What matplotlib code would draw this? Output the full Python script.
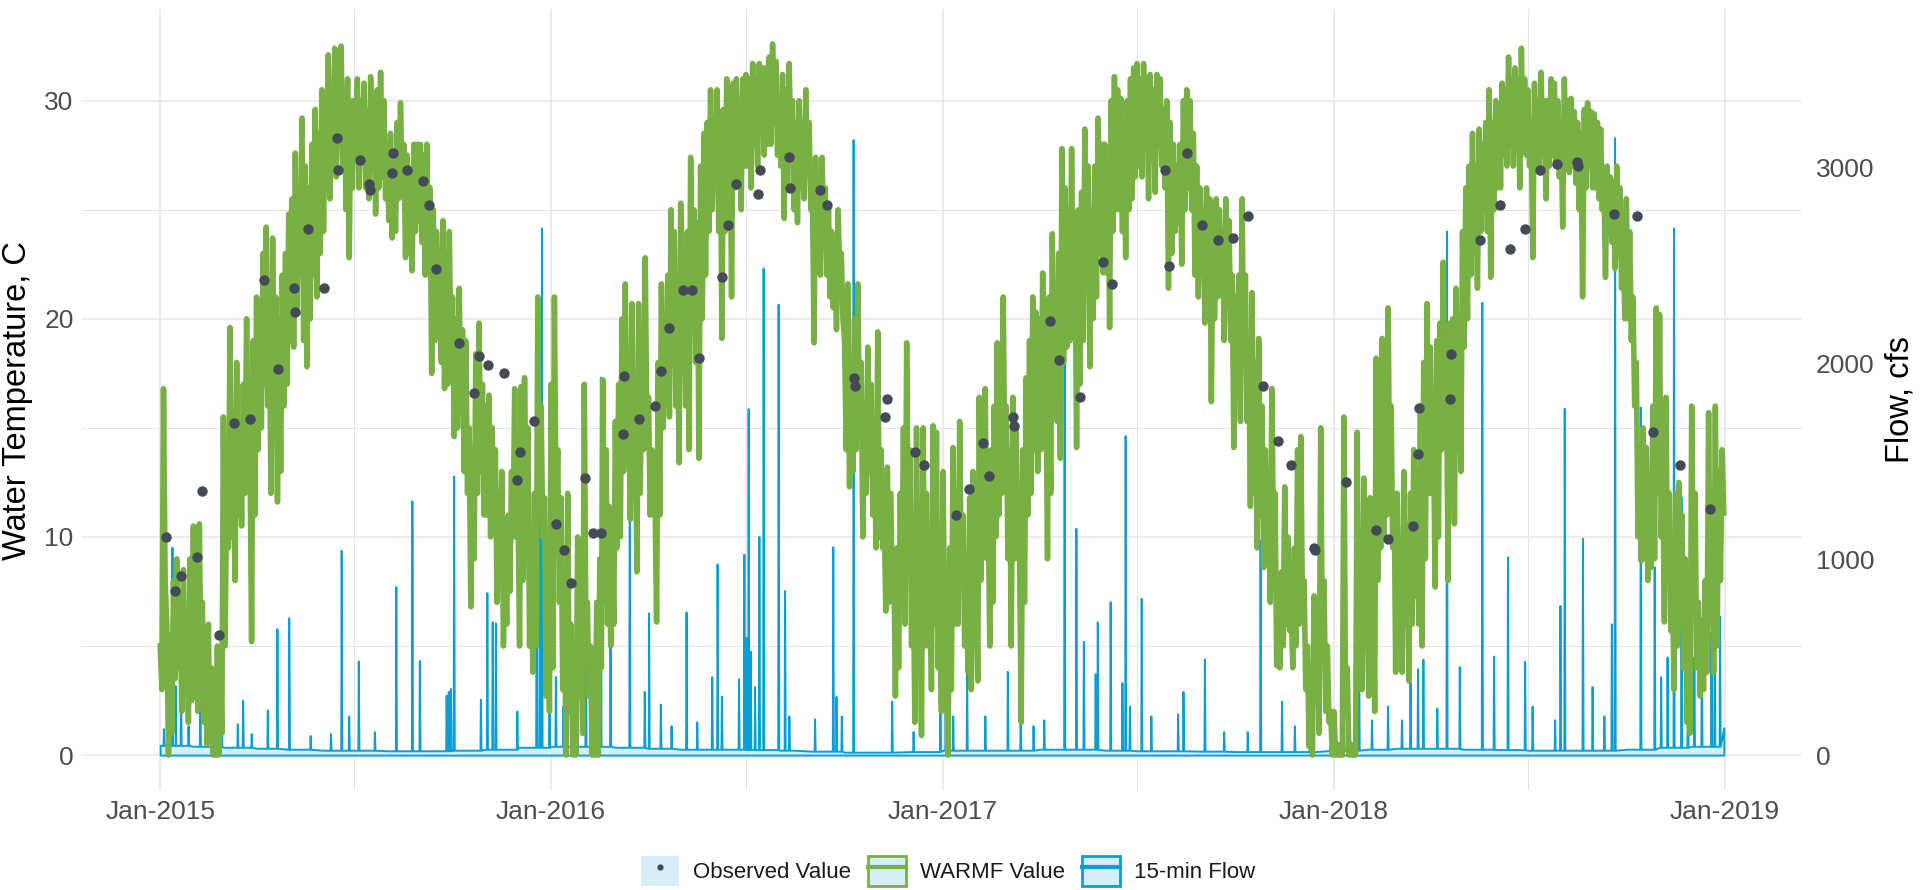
import numpy as np
import pandas as pd
import matplotlib
matplotlib.use("Agg")
import matplotlib.pyplot as plt
import matplotlib.dates as mdates
from matplotlib.patches import Patch
from matplotlib.lines import Line2D
from matplotlib.legend_handler import HandlerTuple

plt.rcParams['font.family'] = ['Liberation Sans', 'DejaVu Sans']

# ---------------- data ----------------
# WARMF simulated water temperature (C): per month, the daily highs and lows
warmf_hi_2015 = [
    [5.0, 16.8, 6.0, 5.5, 8.0, 9.0, 7.5, 8.5, 6.5, 9.0],
    [10.5, 8.0, 10.6, 7.0, 5.5, 6.0, 4.0, 3.5, 5.0, 4.0],
    [15.5, 12.0, 19.6, 14.0, 18.0, 15.0, 17.0, 20.0, 14.0, 19.0],
    [21.0, 19.0, 23.0, 24.2, 19.0, 23.7, 21.0, 20.0, 22.0, 23.0],
    [24.8, 25.5, 27.6, 26.0, 29.2, 27.0, 26.0, 28.0, 29.6, 28.5],
    [30.5, 29.0, 32.1, 30.0, 32.4, 31.0, 32.5, 30.5, 31.0, 30.0],
    [30.0, 31.0, 30.0, 30.8, 29.5, 31.1, 30.0, 30.5, 31.3, 30.0],
    [28.0, 28.5, 27.0, 29.0, 29.9, 28.0, 27.5, 26.5, 28.0, 28.0],
    [28.0, 27.5, 28.0, 26.0, 25.0, 24.0, 23.0, 24.5, 23.0, 24.0],
    [21.0, 20.0, 21.4, 19.5, 19.0, 15.0, 14.0, 18.4, 19.8, 17.0],
    [16.0, 16.5, 15.0, 14.0, 12.0, 13.0, 10.0, 11.0, 13.0, 16.8],
    [12.0, 16.9, 17.3, 15.0, 9.0, 12.0, 21.0, 16.0, 11.8, 8.0],
]
warmf_lo_2015 = [
    [3.0, 8.0, 0.0, 1.0, 3.5, 4.0, 2.0, 3.0, 1.5, 2.5],
    [3.0, 2.0, 4.0, 1.5, 0.5, 1.0, 0.0, 0.0, 0.0, 1.0],
    [5.0, 9.5, 10.0, 8.0, 11.0, 10.5, 12.0, 13.0, 5.2, 11.0],
    [14.0, 15.0, 17.0, 16.0, 12.0, 15.5, 11.6, 13.0, 16.0, 17.0],
    [19.0, 18.7, 20.5, 22.0, 19.0, 17.8, 20.0, 22.0, 21.0, 23.0],
    [24.0, 26.0, 25.5, 27.0, 26.5, 28.0, 27.0, 25.0, 22.8, 26.0],
    [27.8, 26.0, 27.5, 26.0, 25.5, 27.0, 24.8, 26.0, 26.5, 25.5],
    [24.5, 23.7, 24.0, 25.5, 26.0, 22.8, 23.0, 22.2, 24.0, 24.5],
    [23.5, 22.0, 23.0, 17.5, 19.0, 21.0, 18.0, 16.8, 17.0, 18.0],
    [14.6, 15.0, 15.7, 13.0, 12.0, 6.8, 9.0, 12.0, 13.0, 11.0],
    [11.0, 10.0, 11.0, 7.0, 8.0, 5.0, 6.0, 7.5, 10.0, 10.0],
    [5.0, 8.0, 11.0, 5.0, 3.8, 5.0, 11.0, 10.0, 2.7, 2.0],
]
warmf_hi_2016 = [
    [17.0, 21.0, 14.0, 11.8, 7.0, 12.0, 6.0, 4.0, 10.0, 7.0],
    [17.0, 7.0, 5.0, 3.0, 7.0, 9.0, 17.2, 14.0, 11.4, 10.0],
    [15.3, 17.0, 20.0, 21.6, 18.0, 20.7, 15.0, 20.7, 19.0, 22.8],
    [16.4, 14.0, 12.0, 18.0, 21.6, 19.0, 22.0, 25.0, 24.0, 20.0],
    [25.3, 22.0, 24.0, 27.4, 25.0, 24.4, 27.0, 28.5, 29.0, 30.5],
    [29.0, 30.5, 29.5, 29.6, 31.0, 30.0, 30.8, 31.0, 30.0, 31.0],
    [31.2, 31.0, 31.7, 31.0, 31.7, 31.5, 31.5, 32.0, 32.6, 31.8],
    [30.0, 31.2, 30.5, 31.7, 30.0, 29.0, 30.0, 29.0, 30.5, 29.0],
    [26.0, 27.4, 26.0, 27.4, 26.0, 25.0, 24.0, 23.0, 25.0, 23.0],
    [19.0, 21.6, 17.0, 20.0, 21.6, 18.0, 16.0, 18.7, 17.0, 14.0],
    [19.4, 14.0, 11.0, 13.2, 12.0, 9.0, 9.5, 12.0, 15.0, 18.9],
    [14.0, 9.0, 15.0, 8.0, 15.0, 12.0, 8.4, 15.1, 14.8, 7.0],
]
warmf_lo_2016 = [
    [4.0, 11.0, 7.0, 3.0, 0.0, 2.0, 0.0, 0.0, 2.7, 1.0],
    [6.0, 2.7, 0.0, 0.0, 0.0, 4.0, 7.0, 6.0, 5.0, 6.0],
    [9.5, 10.0, 13.0, 14.0, 10.8, 12.0, 8.4, 12.0, 14.0, 15.0],
    [11.0, 11.8, 6.1, 11.0, 15.0, 16.4, 15.5, 18.0, 16.0, 13.4],
    [18.7, 16.0, 14.0, 21.0, 18.0, 13.6, 20.0, 22.0, 24.0, 25.0],
    [26.7, 24.0, 19.1, 24.0, 26.0, 21.0, 26.0, 28.0, 25.0, 27.0],
    [27.0, 26.0, 28.0, 27.0, 28.5, 27.5, 28.0, 28.0, 29.0, 27.5],
    [27.0, 24.6, 26.0, 28.0, 25.0, 24.4, 26.0, 25.5, 27.0, 25.0],
    [18.9, 23.0, 22.0, 24.0, 22.0, 21.0, 20.5, 19.5, 22.1, 20.0],
    [14.0, 12.3, 13.0, 14.0, 15.0, 10.0, 12.0, 13.0, 11.0, 9.5],
    [10.0, 9.5, 6.6, 7.0, 8.0, 2.7, 4.0, 7.0, 6.0, 10.0],
    [5.0, 1.5, 6.0, 0.9, 5.0, 5.0, 3.0, 6.0, 4.0, 2.0],
]
warmf_hi_2017 = [
    [13.0, 4.0, 9.5, 14.1, 12.0, 15.3, 11.0, 9.0, 11.8, 13.0],
    [8.0, 16.4, 14.0, 16.8, 11.0, 14.0, 16.0, 18.9, 17.0, 21.0],
    [16.0, 14.0, 16.4, 15.0, 9.0, 14.0, 17.3, 19.0, 21.0, 20.3],
    [20.0, 22.1, 18.0, 21.0, 23.9, 21.0, 23.0, 27.8, 26.0, 25.0],
    [27.8, 24.0, 25.0, 25.8, 28.7, 27.0, 25.0, 27.0, 29.2, 28.0],
    [28.0, 27.0, 30.0, 31.1, 30.5, 30.1, 29.0, 30.0, 31.0, 31.5],
    [31.7, 31.0, 31.7, 31.0, 31.2, 30.5, 31.2, 31.0, 29.6, 30.0],
    [29.0, 28.0, 27.0, 28.0, 30.0, 30.5, 30.0, 28.5, 27.0, 26.0],
    [25.0, 26.0, 25.5, 24.5, 25.5, 25.0, 24.0, 25.5, 24.5, 22.0],
    [21.0, 22.0, 25.5, 22.0, 19.0, 21.2, 18.0, 19.1, 16.0, 14.0],
    [11.8, 16.8, 12.0, 8.0, 8.4, 12.3, 10.0, 7.0, 9.5, 14.0],
    [14.6, 8.0, 5.0, 3.0, 7.3, 6.1, 15.0, 8.0, 5.0, 2.0],
]
warmf_lo_2017 = [
    [5.0, 0.0, 3.0, 6.0, 6.0, 8.0, 5.0, 3.8, 3.0, 6.0],
    [3.4, 8.0, 9.5, 9.0, 5.0, 7.0, 10.0, 11.0, 12.0, 13.0],
    [9.0, 5.0, 9.0, 9.5, 1.5, 7.0, 11.0, 12.0, 14.0, 13.0],
    [14.0, 16.0, 9.0, 12.0, 17.0, 15.3, 13.6, 18.0, 18.7, 19.0],
    [20.0, 14.1, 17.0, 19.0, 22.0, 17.8, 20.0, 21.0, 23.0, 22.1],
    [22.1, 19.6, 24.0, 25.0, 25.0, 24.0, 22.8, 25.0, 25.5, 26.5],
    [27.0, 26.5, 28.0, 25.5, 27.5, 25.8, 28.0, 27.0, 26.0, 21.4],
    [23.0, 24.0, 24.4, 22.5, 25.0, 26.0, 25.0, 22.0, 21.0, 23.0],
    [19.8, 20.0, 16.2, 20.0, 21.0, 21.4, 19.0, 21.0, 19.0, 14.1],
    [17.5, 15.3, 18.0, 15.3, 11.4, 12.0, 9.5, 11.0, 8.6, 9.0],
    [7.0, 10.0, 4.1, 4.0, 5.0, 6.0, 5.7, 4.0, 5.0, 6.0],
    [7.0, 3.0, 0.4, 0.0, 2.7, 1.0, 5.0, 2.0, 1.5, 0.0],
]
warmf_hi_2018 = [
    [2.0, 0.5, 0.0, 15.5, 4.0, 0.5, 0.0, 14.8, 8.0, 12.7],
    [9.0, 11.8, 8.0, 18.2, 15.0, 19.1, 17.0, 20.5, 16.0, 12.0],
    [12.0, 9.5, 13.0, 10.6, 12.0, 14.0, 13.0, 16.0, 18.0, 20.7],
    [18.7, 14.0, 19.0, 19.8, 22.6, 18.0, 19.8, 20.0, 21.4, 18.0],
    [24.0, 26.0, 27.0, 28.5, 27.0, 28.7, 28.0, 29.0, 30.5, 29.0],
    [30.0, 29.0, 30.8, 30.5, 32.0, 31.0, 31.5, 31.0, 32.4, 31.0],
    [30.5, 29.0, 30.8, 30.0, 31.3, 30.0, 30.0, 31.0, 30.8, 30.0],
    [29.0, 31.0, 30.0, 30.1, 29.5, 29.0, 28.5, 29.6, 29.9, 29.5],
    [29.4, 29.0, 28.7, 26.5, 27.0, 26.5, 26.3, 27.0, 26.0, 24.0],
    [25.5, 24.0, 21.0, 18.0, 14.1, 15.0, 14.1, 12.0, 16.0, 20.5],
    [20.2, 13.0, 16.4, 12.0, 8.0, 12.0, 12.5, 11.0, 9.0, 6.0],
    [16.0, 12.0, 7.0, 6.1, 8.0, 15.7, 9.0, 16.0, 13.0, 14.0],
]
warmf_lo_2018 = [
    [0.0, 0.0, 0.0, 2.0, 0.0, 0.0, 0.0, 3.0, 3.0, 5.0],
    [2.7, 5.0, 2.0, 8.0, 9.5, 10.0, 11.0, 12.0, 9.5, 3.8],
    [5.0, 3.8, 6.0, 3.4, 6.0, 7.3, 6.0, 5.0, 9.0, 12.0],
    [12.0, 7.7, 10.0, 14.0, 16.0, 8.0, 12.0, 10.6, 14.0, 13.0],
    [18.7, 20.0, 22.0, 23.0, 21.4, 24.0, 25.0, 24.0, 21.9, 25.0],
    [26.0, 26.0, 27.5, 27.0, 28.0, 27.0, 28.5, 26.0, 28.0, 27.5],
    [27.0, 22.8, 27.0, 26.7, 27.5, 25.5, 27.0, 27.5, 27.0, 26.5],
    [24.2, 27.0, 26.7, 27.0, 26.2, 25.0, 21.0, 26.0, 27.0, 26.0],
    [26.0, 25.5, 25.0, 21.9, 24.0, 23.5, 22.3, 23.0, 21.4, 20.0],
    [20.0, 19.0, 16.0, 10.0, 8.9, 9.0, 8.0, 8.6, 9.0, 12.0],
    [10.0, 6.1, 8.0, 5.7, 3.0, 5.0, 6.0, 4.0, 1.5, 1.0],
    [8.0, 4.0, 2.7, 3.0, 3.8, 6.0, 3.8, 5.0, 8.0, 11.1],
]

# Observed water temperature (C)
obs_dates = [
    '2015-01-06', '2015-01-15', '2015-01-20', '2015-02-04', '2015-02-09', '2015-02-25', '2015-03-11',
    '2015-03-26', '2015-04-08', '2015-04-21', '2015-05-06', '2015-05-07', '2015-05-19', '2015-06-03',
    '2015-06-15', '2015-06-16', '2015-07-07', '2015-07-15', '2015-07-16', '2015-08-05', '2015-08-06',
    '2015-08-19', '2015-09-03', '2015-09-09', '2015-09-16', '2015-10-07', '2015-10-21', '2015-10-26',
    '2015-11-03', '2015-11-18', '2015-11-30', '2015-12-03', '2015-12-16',
    '2016-01-06', '2016-01-13', '2016-01-20', '2016-02-02', '2016-02-09', '2016-02-17', '2016-03-08',
    '2016-03-09', '2016-03-23', '2016-04-07', '2016-04-13', '2016-04-20', '2016-05-03', '2016-05-12',
    '2016-05-18', '2016-06-09', '2016-06-14', '2016-06-22', '2016-07-12', '2016-07-14', '2016-08-10',
    '2016-08-11', '2016-09-08', '2016-09-15', '2016-10-10', '2016-10-11', '2016-11-08', '2016-11-10',
    '2016-12-06', '2016-12-14',
    '2017-01-13', '2017-01-25', '2017-02-07', '2017-02-13', '2017-03-07', '2017-03-08', '2017-04-11',
    '2017-04-19', '2017-05-09', '2017-05-30', '2017-06-08', '2017-07-27', '2017-07-31', '2017-08-17',
    '2017-08-31', '2017-09-15', '2017-09-29', '2017-10-13', '2017-10-27', '2017-11-10', '2017-11-22',
    '2017-12-13', '2017-12-14',
    '2018-01-12', '2018-02-09', '2018-02-20', '2018-03-16', '2018-03-20', '2018-03-21', '2018-04-19',
    '2018-04-20', '2018-05-17', '2018-06-05', '2018-06-14', '2018-06-28', '2018-07-12', '2018-07-28',
    '2018-08-16', '2018-08-17', '2018-09-19', '2018-10-11', '2018-10-26', '2018-11-20', '2018-12-18',
]
obs_vals = [
    10.0, 7.5, 8.2, 9.1, 12.1, 5.5, 15.2, 15.4, 21.8, 17.7, 21.4, 20.3, 24.1, 21.4, 28.3, 26.8,
    27.3, 26.2, 25.9, 26.7, 27.6, 26.8, 26.3, 25.2, 22.3, 18.9, 16.6, 18.3, 17.9, 17.5, 12.6, 13.9, 15.3,
    10.6, 9.4, 7.9, 12.7, 10.2, 10.2, 14.7, 17.4, 15.4, 16.0, 17.6, 19.6, 21.3, 21.3, 18.2, 21.9,
    24.3, 26.2, 25.7, 26.8, 27.4, 26.0, 25.9, 25.2, 17.3, 16.9, 15.5, 16.3, 13.9, 13.3,
    11.0, 12.2, 14.3, 12.8, 15.5, 15.1, 19.9, 18.1, 16.4, 22.6, 21.6, 26.8, 22.4, 27.6, 24.3, 23.6,
    23.7, 24.7, 16.9, 14.4, 13.3, 9.5, 9.4,
    12.5, 10.3, 9.9, 10.5, 13.8, 15.9, 16.3, 18.4, 23.6, 25.2, 23.2, 24.1, 26.8, 27.1, 27.2, 27.0,
    24.8, 24.7, 14.8, 13.3, 11.3,
]

# 15-min flow (cfs): monthly base flow plus storm peaks
flow_base_2015 = [50, 45, 40, 35, 30, 25, 25, 22, 22, 25, 30, 40]
flow_base_2016 = [45, 45, 40, 35, 30, 30, 28, 25, 20, 15, 15, 18]
flow_base_2017 = [25, 25, 25, 30, 30, 25, 22, 22, 20, 18, 18, 18]
flow_base_2018 = [25, 30, 35, 35, 30, 28, 25, 25, 25, 30, 40, 45]
flow_end = 140

spike_dates = [
    '2015-01-04', '2015-01-12', '2015-01-15', '2015-01-20', '2015-01-27', '2015-02-07', '2015-02-27',
    '2015-03-14', '2015-03-19', '2015-03-27', '2015-04-11', '2015-04-20', '2015-05-01', '2015-05-21',
    '2015-06-09', '2015-06-19', '2015-06-26', '2015-07-05', '2015-07-20', '2015-08-09', '2015-08-24',
    '2015-08-31', '2015-09-25', '2015-09-27', '2015-09-29', '2015-10-02', '2015-10-27', '2015-11-02',
    '2015-11-07', '2015-11-10', '2015-11-30', '2015-12-18', '2015-12-21', '2015-12-23', '2015-12-30',
    '2016-01-05', '2016-01-12', '2016-02-02', '2016-02-16', '2016-02-25', '2016-03-14', '2016-03-28',
    '2016-04-01', '2016-04-12', '2016-04-22', '2016-05-06', '2016-05-16', '2016-05-30', '2016-06-04',
    '2016-06-08', '2016-06-24', '2016-06-29', '2016-07-01', '2016-07-03', '2016-07-05', '2016-07-09',
    '2016-07-13', '2016-07-17', '2016-07-31', '2016-08-06', '2016-08-10', '2016-09-03', '2016-09-20',
    '2016-09-23', '2016-09-28', '2016-10-09', '2016-11-14', '2016-12-04', '2016-12-29',
    '2017-01-03', '2017-01-10', '2017-01-23', '2017-02-09', '2017-03-02', '2017-03-14', '2017-03-26',
    '2017-04-05', '2017-04-24', '2017-05-05', '2017-05-12', '2017-05-23', '2017-05-25', '2017-06-06',
    '2017-06-17', '2017-06-20', '2017-06-24', '2017-07-05', '2017-07-14', '2017-08-08', '2017-08-13',
    '2017-09-02', '2017-09-20', '2017-10-12', '2017-10-24', '2017-11-13', '2017-11-25', '2017-12-09',
    '2018-01-10', '2018-01-24', '2018-02-05', '2018-02-20', '2018-03-05', '2018-03-13', '2018-03-20',
    '2018-03-25', '2018-04-07', '2018-04-16', '2018-04-28', '2018-05-19', '2018-05-30', '2018-06-12',
    '2018-06-28', '2018-07-05', '2018-07-26', '2018-07-31', '2018-08-04', '2018-08-21', '2018-08-30',
    '2018-09-10', '2018-09-17', '2018-09-20', '2018-10-14', '2018-10-27', '2018-11-02', '2018-11-08',
    '2018-11-14', '2018-11-21', '2018-11-27', '2018-12-03', '2018-12-10', '2018-12-19', '2018-12-22',
    '2018-12-27',
]
spike_peaks = [
    135, 1060, 355, 375, 150, 350, 160, 160, 280, 110, 230, 645, 700, 100, 110, 1045, 200, 480, 120,
    860, 1297, 483, 305, 325, 340, 1424, 285, 829, 680, 675, 225, 890, 1850, 2690, 810,
    400, 250, 800, 1928, 630, 1850, 325, 725, 260, 150, 730, 170, 400, 975, 300, 390, 1025, 600,
    1768, 530, 350, 1115, 2485, 2300, 840, 200, 185, 1063, 300, 200, 3140, 275, 120, 530,
    530, 200, 430, 200, 427, 200, 150, 180, 2780, 1157, 580, 415, 680, 783, 370, 1630, 250, 800,
    200, 210, 325, 490, 120, 120, 1096, 275, 150, 200,
    150, 530, 180, 250, 180, 376, 440, 490, 240, 2673, 452, 2310, 505, 1012, 478, 250, 180, 763,
    1770, 1106, 350, 200, 670, 3150, 1775, 960, 400, 500, 2690, 1318, 600, 500, 700, 630, 960, 710,
]

# ---------------- styling ----------------
GREEN = '#78B043'
BLUE = '#0A9FD4'
DOT = '#434B57'
KEYBG = '#D6EEF7'
GRID = '#E4E4E4'
TICKC = '#4D4D4D'
FLOW_PER_C = 111.3

months = pd.date_range('2015-01-01', '2018-12-01', freq='MS')
hi_all = warmf_hi_2015 + warmf_hi_2016 + warmf_hi_2017 + warmf_hi_2018
lo_all = warmf_lo_2015 + warmf_lo_2016 + warmf_lo_2017 + warmf_lo_2018
w_dates, w_vals = [], []
for k, (m, his, los) in enumerate(zip(months, hi_all, lo_all)):
    nd = m.days_in_month
    seq = []
    for h, l in zip(his, los):
        seq += [h, l]
    n = len(seq)
    for i, v in enumerate(seq):
        off = (nd - 1) * i / (n - 1) if k == len(months) - 1 else nd * i / n
        w_dates.append(m + pd.Timedelta(days=off))
        w_vals.append(v)

base_all = flow_base_2015 + flow_base_2016 + flow_base_2017 + flow_base_2018
pts = []
for m, b in zip(months, base_all):
    pts.append((m, b))
    pts.append((m + pd.Timedelta(days=14), b))
base_lookup = {(m.year, m.month): b for m, b in zip(months, base_all)}
for d, p in zip(pd.to_datetime(spike_dates), spike_peaks):
    b = base_lookup[(d.year, d.month)]
    pts.append((d - pd.Timedelta(hours=10), b))
    pts.append((d, p))
    pts.append((d + pd.Timedelta(hours=14), b))
pts.append((pd.Timestamp('2018-12-31'), flow_end))
pts.sort(key=lambda t: t[0])
f_dates = [t[0] for t in pts]
f_vals = [t[1] for t in pts]

# ---------------- figure ----------------
fig = plt.figure(figsize=(19.2, 8.9), dpi=100)
rect = [82 / 1920, 1 - 790 / 890, 1720 / 1920, 781 / 890]
ax = fig.add_axes(rect)            # grid + left axis
axf = ax.twinx()                   # flow (right axis)
axt = ax.twinx()                   # temperature marks on top

t_lim = (-1.6, 34.2)
x_lim = (pd.Timestamp('2015-01-01') - pd.Timedelta(days=73), pd.Timestamp('2018-12-31') + pd.Timedelta(days=73))
for a in (ax, axf, axt):
    a.set_xlim(*x_lim)
    for s in a.spines.values():
        s.set_visible(False)
ax.set_ylim(*t_lim)
axt.set_ylim(*t_lim)
axf.set_ylim(t_lim[0] * FLOW_PER_C, t_lim[1] * FLOW_PER_C)

ax.set_zorder(0)
axf.set_zorder(1)
axt.set_zorder(2)
axf.patch.set_visible(False)
axt.patch.set_visible(False)

ax.xaxis.set_major_locator(mdates.YearLocator())
ax.xaxis.set_minor_locator(mdates.MonthLocator(bymonth=7))
ax.xaxis.set_major_formatter(mdates.DateFormatter('%b-%Y'))
ax.set_yticks([0, 10, 20, 30])
ax.set_yticks([5, 15, 25], minor=True)
ax.grid(True, which='major', color=GRID, lw=1.1)
ax.grid(True, which='minor', color=GRID, lw=0.7)
ax.set_axisbelow(True)
ax.tick_params(which='both', length=0)
ax.tick_params(axis='y', labelsize=19, labelcolor=TICKC, pad=6)
ax.tick_params(axis='x', labelsize=19, labelcolor=TICKC, pad=7)

axf.set_yticks([0, 1000, 2000, 3000])
axf.tick_params(which='both', length=0, labelsize=19, labelcolor=TICKC, pad=10)
axf.tick_params(axis='x', labelbottom=False)
axt.set_yticks([])
axt.tick_params(axis='x', labelbottom=False, length=0)
axt.tick_params(axis='y', labelright=False, length=0)

axf.fill_between(f_dates, 0, f_vals, facecolor=KEYBG, edgecolor=BLUE, lw=1.4)
axt.plot(w_dates, w_vals, color=GREEN, lw=4.0)
axt.plot(pd.to_datetime(obs_dates), obs_vals, ls='none', marker='o', ms=7.5, color=DOT, mec='none')

fig.text(18 / 1920, 1 - 400 / 890, 'Water Temperature, C', rotation=90, ha='center', va='center',
         fontsize=23.5, color='black')
fig.text(1900 / 1920, 1 - 400 / 890, 'Flow, cfs', rotation=90, ha='center', va='center',
         fontsize=23.5, color='black')

h_obs = (Patch(facecolor=KEYBG, edgecolor='none'),
         Line2D([], [], ls='none', marker='o', ms=4.5, color=DOT, mec='none'))
h_warmf = (Patch(facecolor=KEYBG, edgecolor=GREEN, lw=2), Line2D([], [], color=GREEN, lw=3))
h_flow = (Patch(facecolor=KEYBG, edgecolor=BLUE, lw=2), Line2D([], [], color=BLUE, lw=3))
fig.legend([h_obs, h_warmf, h_flow], ['Observed Value', 'WARMF Value', '15-min Flow'],
           handler_map={tuple: HandlerTuple(ndivide=1, pad=0)},
           loc='center', bbox_to_anchor=(948 / 1920, 1 - 871 / 890), ncol=3, frameon=False,
           fontsize=16, handlelength=1.72, handleheight=1.65, handletextpad=0.62,
           columnspacing=0.75, borderpad=0, labelcolor='#1A1A1A')

fig.savefig('out.png', dpi=100)
